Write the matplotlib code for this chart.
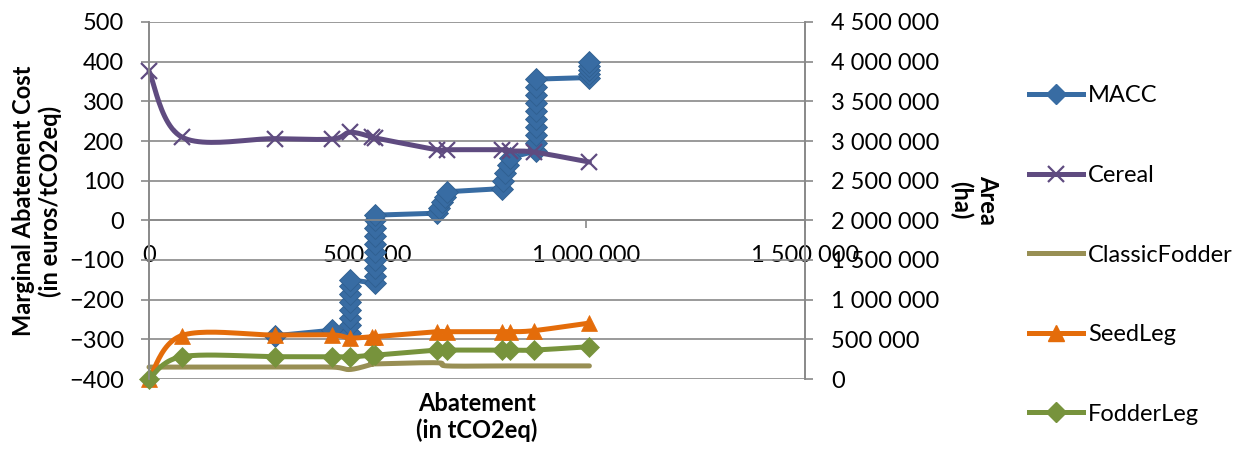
import numpy as np
import matplotlib
matplotlib.use("Agg")
import matplotlib.pyplot as plt
from matplotlib.lines import Line2D
from matplotlib.ticker import FuncFormatter, MultipleLocator

plt.rcParams['font.family'] = ['Lato', 'DejaVu Sans']

# MACC: cumulative abatement (tCO2eq) vs marginal cost (euros/tCO2eq)
macc_x = [288000, 419000,
          460000, 460000, 460000, 460000, 460000, 460000, 460000, 460000,
          516000, 516000, 516000, 516000, 516000, 516000, 516000, 516000, 516000, 516000,
          658000, 663000, 670000, 676000, 681000,
          807000, 810000, 815000, 820000, 826000,
          885000, 885000, 885000, 885000, 885000, 885000, 885000, 885000, 885000, 885000,
          1007000, 1007000, 1007000, 1007000, 1007000]
macc_y = [-291, -277,
          -285, -265, -245, -225, -205, -185, -165, -150,
          -158, -140, -120, -100, -80, -60, -40, -20, 0, 13,
          18, 30, 45, 60, 72,
          80, 100, 120, 140, 158,
          175, 195, 215, 235, 255, 275, 295, 315, 335, 356,
          360, 370, 380, 390, 398]

# crop areas (ha) at each abatement level
area_x = [0, 75000, 288000, 419000, 460000, 510000, 516000,
          658000, 681000, 807000, 826000, 881000, 1007000]
cereal = [3880000, 3050000, 3030000, 3025000, 3110000, 3050000, 3040000,
          2890000, 2890000, 2890000, 2875000, 2860000, 2735000]
classic_fodder = [150000, 150000, 150000, 150000, 120000, 185000, 190000,
                  205000, 165000, 165000, 165000, 165000, 165000]
seed_leg = [0, 548000, 554000, 555000, 517000, 533000, 533000,
            596000, 596000, 596000, 596000, 610000, 705000]
fodder_leg = [0, 281000, 281000, 281000, 278000, 300000, 300000,
              365000, 365000, 365000, 365000, 365000, 407000]

c_macc = '#386ca3'
c_cereal = '#5f4b80'
c_classic = '#988f54'
c_seed = '#e46c0a'
c_fodder = '#77933c'
grid_c = '#898989'


def smooth(xs, ys, sx, sy, n=24):
    # bezier smoothing through every point, computed in screen-like units
    P = np.column_stack([np.asarray(xs, float) / sx, np.asarray(ys, float) / sy])
    out = [P[:1]]
    t = np.linspace(0, 1, n)[1:, None]
    for i in range(len(P) - 1):
        p0 = P[i - 1] if i > 0 else P[i]
        p1, p2 = P[i], P[i + 1]
        p3 = P[i + 2] if i + 2 < len(P) else P[i + 1]
        c1 = p1 + (p2 - p0) / 6
        c2 = p2 - (p3 - p1) / 6
        seg = (1 - t) ** 3 * p1 + 3 * (1 - t) ** 2 * t * c1 + 3 * (1 - t) * t ** 2 * c2 + t ** 3 * p2
        out.append(seg)
    S = np.vstack(out)
    return S[:, 0] * sx, S[:, 1] * sy


def spaced(v, pos):
    return f"{v:,.0f}".replace(",", " ")


fig = plt.figure(figsize=(12.36, 4.49), dpi=100)
ax = fig.add_axes([149 / 1236, 1 - 379 / 449, 656 / 1236, 357 / 449])
ax2 = ax.twinx()

ax.set_xlim(0, 1500000)
ax.set_ylim(-400, 500)
ax2.set_ylim(0, 4500000)
ax.yaxis.set_major_locator(MultipleLocator(100))
ax2.yaxis.set_major_locator(MultipleLocator(500000))
ax.xaxis.set_major_locator(MultipleLocator(500000))
ax.xaxis.set_major_formatter(FuncFormatter(spaced))
ax2.yaxis.set_major_formatter(FuncFormatter(spaced))

ax.grid(axis='y', color=grid_c, lw=1.2)
ax.set_axisbelow(True)
for a in (ax, ax2):
    a.spines['top'].set_visible(False)
    a.spines['bottom'].set_visible(False)
    a.spines['left'].set_color(grid_c)
    a.spines['right'].set_color(grid_c)
    a.spines['left'].set_linewidth(1.2)
    a.spines['right'].set_linewidth(1.2)
ax.spines['bottom'].set_visible(True)
ax.spines['bottom'].set_position(('data', 0))
ax.spines['bottom'].set_color(grid_c)
ax.spines['bottom'].set_linewidth(1.2)

ax.tick_params(axis='y', length=6, width=1.2, color=grid_c, pad=12, labelsize=17)
ax.tick_params(axis='x', length=6, width=1.2, color=grid_c, pad=12, labelsize=17)
ax2.tick_params(axis='y', length=6, width=1.2, color=grid_c, pad=13, labelsize=17)

# MACC on the cost axis
ax.plot(macc_x, macc_y, color=c_macc, lw=3.6, marker='D', ms=11,
        mfc=c_macc, mec='#2f5f90', mew=0.6, zorder=2)

# areas on the secondary axis, smoothed lines
sx = 1500000 / 656
sy = 4500000 / 357
for ys, col, mk, ms in [(cereal, c_cereal, 'x', 12),
                        (classic_fodder, c_classic, None, 0),
                        (seed_leg, c_seed, '^', 11),
                        (fodder_leg, c_fodder, 'D', 10.5)]:
    cx, cy = smooth(area_x, ys, sx, sy)
    ax2.plot(cx, cy, color=col, lw=3.6, solid_capstyle='round', clip_on=False)
    if mk:
        ax2.plot(area_x, ys, ls='none', marker=mk, ms=ms, color=col,
                 mec=col, mew=1.6 if mk == 'x' else 0.5, clip_on=False)

fig.text(37 / 1236, 1 - 201 / 449, "Marginal Abatement Cost\n(in euros/tCO2eq)",
         rotation=90, ha='center', va='center', fontsize=17, fontweight='bold',
         multialignment='center', linespacing=1.2)
fig.text(974 / 1236, 1 - 200 / 449, "Area\n(ha)", rotation=270, ha='center',
         va='center', fontsize=17, fontweight='bold', multialignment='center',
         linespacing=1.2)
fig.text(477 / 1236, 1 - 417 / 449, "Abatement\n(in tCO2eq)", ha='center',
         va='center', fontsize=17, fontweight='bold', multialignment='center',
         linespacing=1.2)

handles = [
    Line2D([], [], color=c_macc, lw=3.6, marker='D', ms=10),
    Line2D([], [], color=c_cereal, lw=3.6, marker='x', ms=12, mew=1.6),
    Line2D([], [], color=c_classic, lw=3.6),
    Line2D([], [], color=c_seed, lw=3.6, marker='^', ms=11),
    Line2D([], [], color=c_fodder, lw=3.6, marker='D', ms=10),
]
labels = ['MACC', 'Cereal', 'ClassicFodder', 'SeedLeg', 'FodderLeg']
fig.legend(handles, labels, loc='center left', bbox_to_anchor=(1017 / 1236, 1 - 255 / 449),
           frameon=False, fontsize=17, borderpad=0, handlelength=2.3,
           handletextpad=0.2, labelspacing=2.48)

fig.savefig('out.png', dpi=100)
